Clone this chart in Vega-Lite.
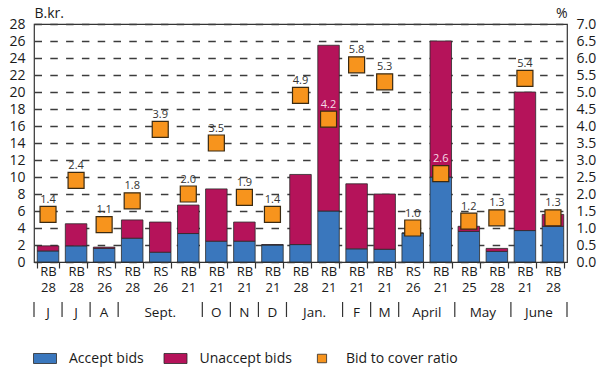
{
  "$schema": "https://vega.github.io/schema/vega-lite/v6.json",
  "padding": {"left": 8, "top": 5, "right": 2, "bottom": 2},
  "bounds": "flush",
  "spacing": 40,
  "config": {
    "font": "Open Sans",
    "axis": {"labelColor": "#1a1a1a", "titleColor": "#1a1a1a", "titleFontWeight": "normal", "domain": false},
    "legend": {"labelColor": "#1a1a1a", "padding": 0},
    "text": {"color": "#333333"}
  },
  "datasets": {
    "auctions": [
      {"bill": "01 RB 28", "Accept bids": 1.3, "Unaccept bids": 0.6, "ratio": 1.4},
      {"bill": "02 RB 28", "Accept bids": 1.9, "Unaccept bids": 2.6, "ratio": 2.4},
      {"bill": "03 RS 26", "Accept bids": 1.6, "Unaccept bids": 0.15, "ratio": 1.1},
      {"bill": "04 RB 28", "Accept bids": 2.8, "Unaccept bids": 2.15, "ratio": 1.8},
      {"bill": "05 RS 26", "Accept bids": 1.15, "Unaccept bids": 3.55, "ratio": 3.9},
      {"bill": "06 RB 21", "Accept bids": 3.35, "Unaccept bids": 3.35, "ratio": 2.0},
      {"bill": "07 RB 21", "Accept bids": 2.45, "Unaccept bids": 6.15, "ratio": 3.5},
      {"bill": "08 RB 21", "Accept bids": 2.45, "Unaccept bids": 2.25, "ratio": 1.9},
      {"bill": "09 RB 21", "Accept bids": 2.0, "Unaccept bids": 0.05, "ratio": 1.4},
      {"bill": "10 RB 28", "Accept bids": 2.05, "Unaccept bids": 8.25, "ratio": 4.9},
      {"bill": "11 RB 21", "Accept bids": 6.0, "Unaccept bids": 19.5, "ratio": 4.2},
      {"bill": "12 RB 21", "Accept bids": 1.55, "Unaccept bids": 7.65, "ratio": 5.8},
      {"bill": "13 RB 21", "Accept bids": 1.5, "Unaccept bids": 6.5, "ratio": 5.3},
      {"bill": "14 RS 26", "Accept bids": 3.4, "Unaccept bids": 0.0, "ratio": 1.0},
      {"bill": "15 RB 21", "Accept bids": 10.0, "Unaccept bids": 16.0, "ratio": 2.6},
      {"bill": "16 RB 25", "Accept bids": 3.6, "Unaccept bids": 0.6, "ratio": 1.2},
      {"bill": "17 RB 28", "Accept bids": 1.25, "Unaccept bids": 0.35, "ratio": 1.3},
      {"bill": "18 RB 21", "Accept bids": 3.7, "Unaccept bids": 16.3, "ratio": 5.4},
      {"bill": "19 RB 28", "Accept bids": 4.2, "Unaccept bids": 1.4, "ratio": 1.3}
    ],
    "edges": [
      {"edge": 0}, {"edge": 1}, {"edge": 2}, {"edge": 3}, {"edge": 6}, {"edge": 7}, {"edge": 8},
      {"edge": 9}, {"edge": 11}, {"edge": 12}, {"edge": 13}, {"edge": 15}, {"edge": 17}, {"edge": 19}
    ],
    "months": [
      {"month": "J", "center": 0.5}, {"month": "J", "center": 1.5}, {"month": "A", "center": 2.5},
      {"month": "Sept.", "center": 4.5}, {"month": "O", "center": 6.5}, {"month": "N", "center": 7.5},
      {"month": "D", "center": 8.5}, {"month": "Jan.", "center": 10}, {"month": "F", "center": 11.5},
      {"month": "M", "center": 12.5}, {"month": "April", "center": 14}, {"month": "May", "center": 16},
      {"month": "June", "center": 18}
    ]
  },
  "vconcat": [
    {
      "width": 533,
      "height": 238,
      "data": {"name": "auctions"},
      "view": {"stroke": "#333333", "strokeWidth": 1.2},
      "encoding": {
        "x": {
          "field": "bill", "type": "nominal", "title": null,
          "scale": {"paddingInner": 0.233, "paddingOuter": 0.1165},
          "axis": {
            "labelExpr": "slice(split(datum.value, ' '), 1)",
            "labelAngle": 0, "labelFontSize": 13, "labelLineHeight": 16, "labelPadding": -2.5,
            "tickBand": "extent", "tickSize": 6, "tickColor": "#333333", "tickWidth": 1.2
          }
        }
      },
      "layer": [
        {
          "transform": [{"fold": ["Accept bids", "Unaccept bids"], "as": ["series", "amount"]}],
          "mark": {"type": "bar", "stroke": "#2a2a2a", "strokeWidth": 0.8},
          "encoding": {
            "y": {
              "field": "amount", "type": "quantitative", "stack": "zero",
              "scale": {"domain": [0, 28], "nice": false},
              "axis": {
                "values": [0, 2, 4, 6, 8, 10, 12, 14, 16, 18, 20, 22, 24, 26, 28],
                "format": "d", "labelFontSize": 14, "labelPadding": 9, "ticks": false,
                "grid": true, "gridDash": [7.5, 8.3], "gridColor": "#3c3c3c", "gridWidth": 1.3,
                "title": "B.kr.", "titleAngle": 0, "titleX": 0, "titleY": -7,
                "titleAlign": "left", "titleBaseline": "alphabetic", "titleFontSize": 14
              }
            },
            "color": {
              "field": "series", "type": "nominal",
              "scale": {
                "domain": ["Accept bids", "Unaccept bids", "Bid to cover ratio"],
                "range": ["#3a77bd", "#b5135a", "#f7941d"]
              },
              "legend": {
                "title": null, "orient": "none", "legendX": -1, "legendY": 322.5,
                "direction": "horizontal", "columnPadding": 17.5, "labelOffset": 12,
                "symbolSize": 529, "labelFontSize": 14,
                "symbolStrokeColor": "#2a2a2a", "symbolStrokeWidth": 0.8, "symbolOpacity": 1,
                "encode": {
                  "symbols": {
                    "update": {
                      "shape": {"signal": "datum.value == 'Bid to cover ratio' ? 'M-0.4,-0.37H0.4V0.37H-0.4Z' : 'M-1,-0.435H1V0.435H-1Z'"},
                      "stroke": {"value": "#2a2a2a"},
                      "strokeWidth": {"value": 0.8}
                    }
                  }
                }
              }
            },
            "order": {"field": "series", "sort": "ascending"}
          }
        },
        {
          "encoding": {
            "y": {
              "field": "ratio", "type": "quantitative",
              "scale": {"domain": [0, 7], "nice": false},
              "axis": {
                "orient": "right",
                "values": [0, 0.5, 1, 1.5, 2, 2.5, 3, 3.5, 4, 4.5, 5, 5.5, 6, 6.5, 7],
                "format": ".1f", "labelFontSize": 14, "labelPadding": 9, "ticks": false, "grid": false,
                "title": "%", "titleAngle": 0, "titleX": 0, "titleY": -7,
                "titleAlign": "right", "titleBaseline": "alphabetic", "titleFontSize": 14
              }
            }
          },
          "layer": [
            {
              "mark": {"type": "point", "shape": "square", "filled": true, "size": 256,
                       "fill": "#f7941d", "stroke": "#3a2a12", "strokeWidth": 1.2, "opacity": 1}
            },
            {
              "mark": {"type": "text", "fontSize": 11, "baseline": "alphabetic", "dy": -11.5},
              "encoding": {
                "text": {"field": "ratio", "type": "quantitative", "format": ".1f"},
                "color": {
                  "condition": {"test": "datum.ratio * 4 + 2 < datum['Accept bids'] + datum['Unaccept bids']", "value": "#f6dce8"},
                  "value": "#333333"
                }
              }
            }
          ]
        }
      ],
      "resolve": {"scale": {"y": "independent"}}
    },
    {
      "width": 533,
      "height": 15,
      "view": {"stroke": null},
      "layer": [
        {
          "data": {"name": "edges"},
          "mark": {"type": "rule", "stroke": "#333333", "strokeWidth": 1.2},
          "encoding": {
            "x": {"field": "edge", "type": "quantitative", "scale": {"domain": [0, 19], "nice": false}, "axis": null}
          }
        },
        {
          "data": {"name": "months"},
          "mark": {"type": "text", "fontSize": 13.5, "baseline": "middle", "dy": 3, "color": "#1a1a1a"},
          "encoding": {
            "x": {"field": "center", "type": "quantitative", "scale": {"domain": [0, 19], "nice": false}, "axis": null},
            "text": {"field": "month"}
          }
        }
      ]
    }
  ]
}
